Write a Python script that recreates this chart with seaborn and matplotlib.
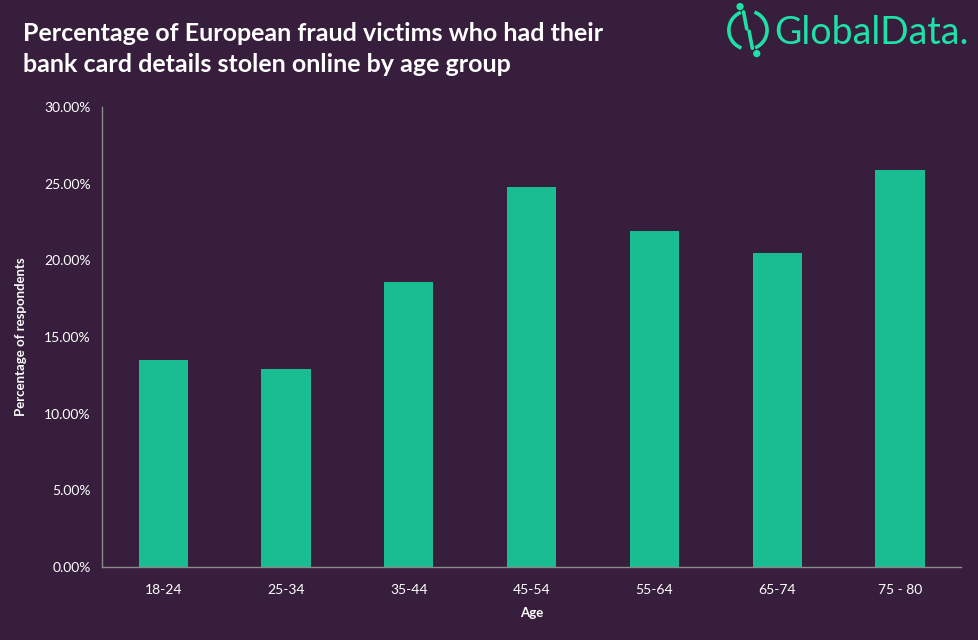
import numpy as np
import pandas as pd
import seaborn as sns
import matplotlib.pyplot as plt
from matplotlib.patches import Arc, Circle
from matplotlib.ticker import FuncFormatter, FixedLocator

age_groups = ['18-24', '25-34', '35-44', '45-54', '55-64', '65-74', '75 - 80']
pct_stolen = [13.5, 12.9, 18.6, 24.8, 21.9, 20.5, 25.9]

bg = '#371e3c'
bar_col = '#19bd91'
axis_col = '#8a8a8a'

sns.set_style('dark')
plt.rcParams['font.family'] = ['Lato', 'DejaVu Sans']

df = pd.DataFrame({'Age': age_groups, 'Pct': pct_stolen})

fig = plt.figure(figsize=(9.79, 6.4), dpi=100, facecolor=bg)
ax = fig.add_axes([0.104, 0.114, 0.878, 0.719])
ax.set_facecolor(bg)

sns.barplot(data=df, x='Age', y='Pct', color=bar_col, width=0.4,
            saturation=1, linewidth=0, ax=ax)

ax.set_ylim(0, 30)
ax.set_xlim(-0.5, len(age_groups) - 0.5)
ax.set_yticks(np.arange(0, 31, 5))
ax.yaxis.set_major_formatter(FuncFormatter(lambda v, p: f'{v:.2f}%'))
ax.xaxis.set_minor_locator(FixedLocator(np.arange(-0.5, len(age_groups), 1)))
ax.tick_params(axis='x', which='major', length=0, colors='white', labelsize=10, pad=12)
ax.tick_params(axis='x', which='minor', length=4, color=axis_col, width=1, direction='out')
ax.tick_params(axis='y', length=4, color=axis_col, width=1, colors='white', labelsize=10, pad=4)

for s in ['top', 'right']:
    ax.spines[s].set_visible(False)
for s in ['left', 'bottom']:
    ax.spines[s].set_visible(True)
    ax.spines[s].set_color(axis_col)
    ax.spines[s].set_linewidth(1)
ax.grid(False)

ax.set_xlabel('Age', color='white', fontweight='bold', fontsize=9.5, labelpad=8)
ax.set_ylabel('Percentage of respondents', color='white', fontweight='bold', fontsize=9.5, labelpad=12)

fig.text(0.023, 0.966, 'Percentage of European fraud victims who had their\nbank card details stolen online by age group',
         color='white', fontsize=18, fontweight='bold', va='top', ha='left', linespacing=1.42)

# logo
logo_col = '#1fe0a6'
fig.text(0.791, 0.948, 'GlobalData.', color=logo_col, fontsize=27, va='center', ha='left')
cx, cy = 0.764, 0.953
lax = fig.add_axes([cx - 0.03, cy - 0.046, 0.06, 0.092])
lax.set_xlim(-1, 1)
lax.set_ylim(-1, 1)
lax.set_aspect('equal')
lax.axis('off')
lax.add_patch(Arc((0, 0), 1.3, 1.3, theta1=112, theta2=250, color=logo_col, lw=2.6))
lax.add_patch(Arc((0, 0), 1.3, 1.3, theta1=-68, theta2=70, color=logo_col, lw=2.6))
lax.plot([-0.15, -0.04], [0.62, 0.04], color=logo_col, lw=2.6, solid_capstyle='round')
lax.plot([0.04, 0.15], [-0.04, -0.62], color=logo_col, lw=2.6, solid_capstyle='round')
lax.add_patch(Circle((-0.27, 0.8), 0.1, color=logo_col))
lax.add_patch(Circle((0.3, -0.8), 0.1, color=logo_col))

plt.savefig('out.png', dpi=100, facecolor=bg)
